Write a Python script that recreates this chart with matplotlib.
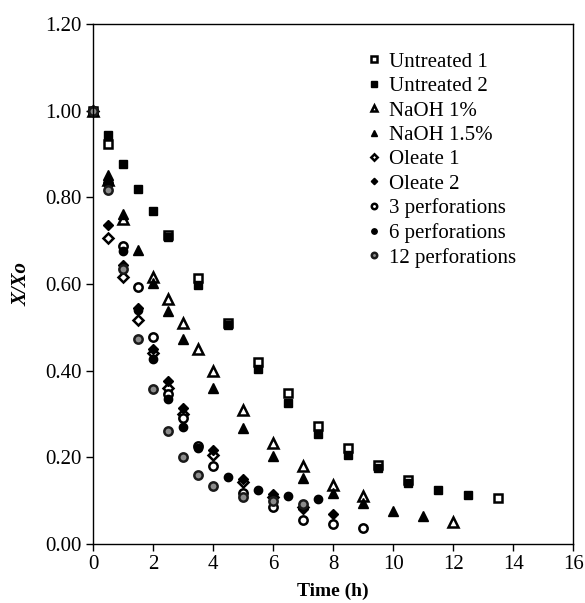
import matplotlib
matplotlib.use("Agg")
import matplotlib.pyplot as plt

plt.rcParams['font.family'] = ['Liberation Serif', 'DejaVu Serif']

# ---- data ----
t_u1 = [0, 0.5, 2.5, 3.5, 4.5, 5.5, 6.5, 7.5, 8.5, 9.5, 10.5, 13.5]
y_u1 = [1.00, 0.924, 0.712, 0.615, 0.511, 0.420, 0.349, 0.272, 0.221, 0.182, 0.148, 0.106]

t_u2 = [0, 0.5, 1.0, 1.5, 2.0, 2.5, 3.5, 4.5, 5.5, 6.5, 7.5, 8.5, 9.5, 10.5, 11.5, 12.5]
y_u2 = [1.00, 0.945, 0.876, 0.819, 0.768, 0.709, 0.598, 0.505, 0.403, 0.325, 0.254, 0.205, 0.175, 0.140, 0.125, 0.113]

t_n1 = [0, 0.5, 1.0, 2.0, 2.5, 3.0, 3.5, 4.0, 5.0, 6.0, 7.0, 8.0, 9.0, 12.0]
y_n1 = [1.00, 0.840, 0.750, 0.616, 0.565, 0.511, 0.451, 0.400, 0.309, 0.232, 0.180, 0.136, 0.111, 0.051]

t_n15 = [0, 0.5, 1.0, 1.5, 2.0, 2.5, 3.0, 4.0, 5.0, 6.0, 7.0, 8.0, 9.0, 10.0, 11.0]
y_n15 = [1.00, 0.851, 0.762, 0.678, 0.602, 0.537, 0.474, 0.359, 0.268, 0.203, 0.151, 0.117, 0.095, 0.077, 0.065]

t_o1 = [0, 0.5, 1.0, 1.5, 2.0, 2.5, 3.0, 4.0, 5.0, 6.0, 7.0]
y_o1 = [1.00, 0.707, 0.616, 0.518, 0.441, 0.360, 0.300, 0.205, 0.143, 0.109, 0.086]

t_o2 = [0, 0.5, 1.0, 1.5, 2.0, 2.5, 3.0, 4.0, 5.0, 6.0, 7.0, 8.0]
y_o2 = [1.00, 0.737, 0.644, 0.544, 0.451, 0.377, 0.313, 0.217, 0.150, 0.115, 0.080, 0.068]

t_p3 = [0, 0.5, 1.0, 1.5, 2.0, 2.5, 3.0, 3.5, 4.0, 5.0, 6.0, 7.0, 8.0, 9.0]
y_p3 = [1.00, 0.833, 0.687, 0.592, 0.477, 0.345, 0.290, 0.227, 0.181, 0.118, 0.085, 0.055, 0.046, 0.036]

t_p6 = [0, 0.5, 1.0, 1.5, 2.0, 2.5, 3.0, 3.5, 4.5, 5.5, 6.5, 7.5]
y_p6 = [1.00, 0.830, 0.677, 0.540, 0.428, 0.335, 0.269, 0.221, 0.154, 0.125, 0.111, 0.103]

t_p12 = [0, 0.5, 1.0, 1.5, 2.0, 2.5, 3.0, 3.5, 4.0, 5.0, 6.0, 7.0]
y_p12 = [1.00, 0.817, 0.634, 0.474, 0.357, 0.261, 0.200, 0.159, 0.134, 0.109, 0.098, 0.092]

labels = ["Untreated 1", "Untreated 2", "NaOH 1%", "NaOH 1.5%", "Oleate 1",
          "Oleate 2", "3 perforations", "6 perforations", "12 perforations"]
xticks = [0, 2, 4, 6, 8, 10, 12, 14, 16]
yticks = [0.0, 0.2, 0.4, 0.6, 0.8, 1.0, 1.2]

series = [(t_u1, y_u1), (t_u2, y_u2), (t_n1, y_n1), (t_n15, y_n15), (t_o1, y_o1),
          (t_o2, y_o2), (t_p3, y_p3), (t_p6, y_p6), (t_p12, y_p12)]
styles = [
    dict(marker='s', mfc='white', mec='black', ms=6.0, mew=1.8),
    dict(marker='s', mfc='black', mec='black', ms=6.0, mew=1.0),
    dict(marker='^', mfc='white', mec='black', ms=7.0, mew=1.8),
    dict(marker='^', mfc='black', mec='black', ms=7.0, mew=1.0),
    dict(marker='D', mfc='white', mec='black', ms=5.0, mew=1.8),
    dict(marker='D', mfc='black', mec='black', ms=5.0, mew=1.0),
    dict(marker='o', mfc='white', mec='black', ms=6.0, mew=1.8),
    dict(marker='o', mfc='black', mec='black', ms=6.0, mew=1.0),
    dict(marker='o', mfc='#8c8c8c', mec='#1a1a1a', ms=6.0, mew=1.8),
]

fig = plt.figure(figsize=(5.85, 6.03), dpi=100)
ax = fig.add_axes([0.159, 0.098, 0.821, 0.862])

for (t, y), lab, st in zip(series, labels, styles):
    ax.plot(t, y, linestyle='none', label=lab, clip_on=False, **st)

ax.set_xlim(0, 16)
ax.set_ylim(0, 1.2)
ax.set_xticks(xticks)
ax.set_yticks(yticks)
ax.set_yticklabels([f"{v:.2f}" for v in yticks])
ax.tick_params(axis='both', direction='out', length=5, width=1, labelsize=15,
               colors='black', pad=3)
for s in ax.spines.values():
    s.set_linewidth(1.0)

ax.set_xlabel("Time (h)", fontsize=14, fontweight='bold', labelpad=6)
ax.set_ylabel("X/Xo", fontsize=15, fontweight='bold', style='italic', labelpad=10)

leg = ax.legend(loc='upper left', bbox_to_anchor=(0.557, 0.962), frameon=False,
                fontsize=15, markerscale=0.65, handlelength=0.5, handletextpad=0.45,
                labelspacing=0.23, borderaxespad=0)

fig.savefig("out.png", dpi=100)
